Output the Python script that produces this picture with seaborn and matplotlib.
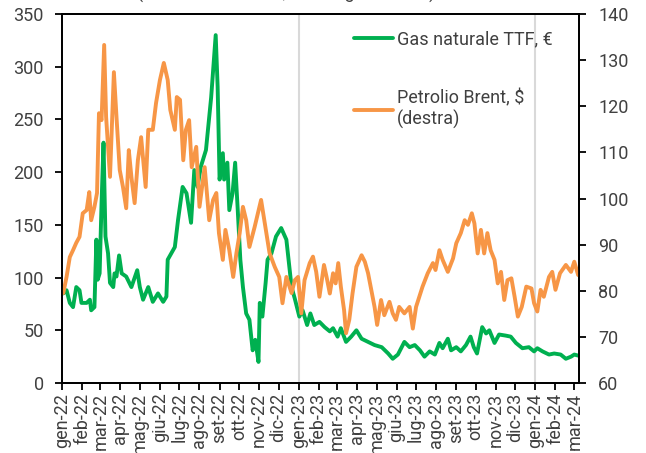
import numpy as np
import pandas as pd
import seaborn as sns
from matplotlib import pyplot as plt

# TTF gas price, EUR/MWh (left axis)
gas_dates = ['2022-01-03', '2022-01-08', '2022-01-13', '2022-01-18', '2022-01-23', '2022-01-28',
             '2022-01-31', '2022-02-08', '2022-02-13', '2022-02-15', '2022-02-20', '2022-02-23',
             '2022-02-25', '2022-02-28', '2022-03-03', '2022-03-06', '2022-03-09', '2022-03-13',
             '2022-03-16', '2022-03-21', '2022-03-23', '2022-03-26', '2022-03-30', '2022-04-03',
             '2022-04-10', '2022-04-18', '2022-04-27', '2022-05-01', '2022-05-06', '2022-05-14',
             '2022-05-21', '2022-05-29', '2022-06-06', '2022-06-11', '2022-06-13', '2022-06-24',
             '2022-06-29', '2022-07-06', '2022-07-12', '2022-07-19', '2022-07-24', '2022-07-29',
             '2022-08-03', '2022-08-11', '2022-08-19', '2022-08-26', '2022-08-29', '2022-09-01',
             '2022-09-06', '2022-09-08', '2022-09-13', '2022-09-16', '2022-09-21', '2022-09-25',
             '2022-09-29', '2022-10-03', '2022-10-07', '2022-10-12', '2022-10-17', '2022-10-22',
             '2022-10-26', '2022-10-31', '2022-11-02', '2022-11-06', '2022-11-11', '2022-11-14',
             '2022-11-20', '2022-11-27', '2022-12-05', '2022-12-13', '2022-12-21', '2022-12-26',
             '2023-01-02', '2023-01-07', '2023-01-14', '2023-01-19', '2023-01-25', '2023-02-02',
             '2023-02-10', '2023-02-18', '2023-02-23', '2023-03-02', '2023-03-07', '2023-03-15',
             '2023-03-23', '2023-03-31', '2023-04-08', '2023-04-18', '2023-04-28', '2023-05-09',
             '2023-05-19', '2023-05-26', '2023-06-03', '2023-06-08', '2023-06-13', '2023-06-21',
             '2023-06-29', '2023-07-07', '2023-07-14', '2023-07-22', '2023-07-30', '2023-08-06',
             '2023-08-11', '2023-08-19', '2023-08-24', '2023-09-01', '2023-09-08', '2023-09-16',
             '2023-09-23', '2023-09-28', '2023-10-03', '2023-10-11', '2023-10-17', '2023-10-22',
             '2023-10-30', '2023-11-06', '2023-11-16', '2023-11-24', '2023-12-02', '2023-12-12',
             '2023-12-22', '2023-12-30', '2024-01-04', '2024-01-12', '2024-01-22', '2024-01-30',
             '2024-02-09', '2024-02-17', '2024-02-25', '2024-03-01', '2024-03-07']
gas_values = [85, 88, 76, 72, 91, 88,
              76, 76, 79, 69, 72, 136,
              98, 104, 171, 228, 139, 123,
              95, 91, 104, 101, 121, 104,
              101, 91, 107, 91, 79, 91,
              77, 85, 77, 82, 117, 129,
              155, 186, 180, 152, 202, 186,
              205, 221, 271, 330, 281, 193,
              218, 193, 209, 164, 180, 209,
              164, 117, 91, 66, 60, 31,
              41, 20, 76, 63, 95, 117,
              123, 139, 147, 136, 91, 80,
              63, 69, 55, 66, 55, 58,
              53, 49, 52, 44, 52, 39,
              44, 50, 42, 39, 36, 34,
              28, 23, 27, 33, 39, 34,
              36, 31, 25, 30, 27, 38,
              33, 42, 31, 34, 30, 36,
              44, 34, 28, 53, 47, 50,
              38, 46, 45, 44, 38, 33,
              34, 30, 33, 30, 27, 28,
              27, 23, 25, 27, 26]

# Brent oil price, USD/barrel (right axis)
brent_dates = ['2022-01-03', '2022-01-08', '2022-01-13', '2022-01-18', '2022-01-23', '2022-01-28',
               '2022-02-02', '2022-02-08', '2022-02-12', '2022-02-15', '2022-02-20', '2022-02-24',
               '2022-02-27', '2022-03-03', '2022-03-07', '2022-03-10', '2022-03-16', '2022-03-22',
               '2022-03-26', '2022-03-31', '2022-04-05', '2022-04-10', '2022-04-14', '2022-04-18',
               '2022-04-23', '2022-04-28', '2022-05-03', '2022-05-10', '2022-05-14', '2022-05-21',
               '2022-05-26', '2022-06-01', '2022-06-07', '2022-06-13', '2022-06-17', '2022-06-24',
               '2022-06-27', '2022-07-02', '2022-07-07', '2022-07-11', '2022-07-16', '2022-07-20',
               '2022-07-27', '2022-08-01', '2022-08-09', '2022-08-16', '2022-08-22', '2022-08-27',
               '2022-08-31', '2022-09-06', '2022-09-10', '2022-09-16', '2022-09-22', '2022-09-27',
               '2022-10-02', '2022-10-07', '2022-10-12', '2022-10-17', '2022-10-25', '2022-11-04',
               '2022-11-09', '2022-11-17', '2022-11-25', '2022-12-02', '2022-12-07', '2022-12-13',
               '2022-12-21', '2022-12-26', '2022-12-31', '2023-01-05', '2023-01-10', '2023-01-18',
               '2023-01-23', '2023-01-28', '2023-02-02', '2023-02-09', '2023-02-13', '2023-02-18',
               '2023-02-23', '2023-02-27', '2023-03-03', '2023-03-07', '2023-03-12', '2023-03-15',
               '2023-03-20', '2023-03-25', '2023-03-31', '2023-04-08', '2023-04-13', '2023-04-18',
               '2023-04-23', '2023-04-28', '2023-05-02', '2023-05-08', '2023-05-13', '2023-05-21',
               '2023-05-26', '2023-05-31', '2023-06-05', '2023-06-13', '2023-06-21', '2023-06-26',
               '2023-07-01', '2023-07-06', '2023-07-11', '2023-07-19', '2023-07-27', '2023-07-31',
               '2023-08-06', '2023-08-11', '2023-08-19', '2023-08-27', '2023-09-01', '2023-09-08',
               '2023-09-14', '2023-09-19', '2023-09-25', '2023-09-29', '2023-10-04', '2023-10-09',
               '2023-10-14', '2023-10-19', '2023-10-24', '2023-10-30', '2023-11-04', '2023-11-09',
               '2023-11-14', '2023-11-19', '2023-11-25', '2023-11-30', '2023-12-05', '2023-12-11',
               '2023-12-18', '2023-12-26', '2023-12-30', '2024-01-04', '2024-01-09', '2024-01-14',
               '2024-01-22', '2024-01-27', '2024-02-01', '2024-02-08', '2024-02-17', '2024-02-25',
               '2024-03-01', '2024-03-07']
brent_values = [79.5, 83.0, 87.3, 88.8, 90.4, 91.7,
                96.8, 97.5, 101.4, 95.3, 98.2, 101.2,
                118.5, 117.0, 133.3, 117.7, 104.7, 127.4,
                117.7, 106.2, 102.5, 97.9, 110.5, 104.7,
                99.0, 108.3, 113.3, 102.5, 114.9, 114.9,
                120.7, 125.7, 129.4, 125.7, 119.2, 114.9,
                122.0, 121.4, 108.3, 114.9, 117.0, 106.8,
                111.2, 98.2, 106.8, 95.3, 99.7, 101.2,
                92.5, 86.7, 93.2, 88.8, 83.0, 88.2,
                92.5, 98.2, 95.3, 89.5, 93.8, 99.7,
                95.3, 88.2, 85.2, 83.0, 77.3, 83.0,
                79.5, 82.3, 83.0, 75.1, 82.3, 86.0,
                87.4, 84.1, 78.7, 85.6, 83.0, 79.4,
                83.8, 81.6, 86.0, 80.9, 75.8, 70.8,
                73.7, 79.4, 85.2, 87.7, 86.3, 83.8,
                80.2, 76.5, 72.6, 78.0, 74.7, 77.6,
                75.1, 73.7, 76.5, 75.1, 76.5, 71.8,
                76.5, 78.7, 80.9, 83.8, 86.0, 84.5,
                88.8, 86.7, 84.1, 87.0, 90.3, 92.5,
                95.3, 94.3, 96.8, 94.6, 88.1, 93.2,
                88.1, 92.5, 88.8, 86.7, 81.6, 84.1,
                78.0, 82.3, 82.7, 78.7, 74.4, 76.5,
                80.9, 80.5, 77.3, 75.5, 80.2, 78.7,
                83.0, 84.1, 80.2, 83.8, 85.6, 84.1,
                86.3, 83.4]

month_labels = ['gen-22', 'feb-22', 'mar-22', 'apr-22', 'mag-22', 'giu-22', 'lug-22', 'ago-22',
                'set-22', 'ott-22', 'nov-22', 'dic-22', 'gen-23', 'feb-23', 'mar-23', 'apr-23',
                'mag-23', 'giu-23', 'lug-23', 'ago-23', 'set-23', 'ott-23', 'nov-23', 'dic-23',
                'gen-24', 'feb-24', 'mar-24']
year_marks = ['2023-01-01', '2024-01-01']

gas = pd.DataFrame({'data': pd.to_datetime(gas_dates), 'valore': gas_values})
brent = pd.DataFrame({'data': pd.to_datetime(brent_dates), 'valore': brent_values})

sns.set_style('ticks')
plt.rcParams['font.family'] = ['Roboto', 'DejaVu Sans']
plt.rcParams['font.size'] = 13
txt_col = '#404040'

fig, ax = plt.subplots(figsize=(6.46, 4.53), dpi=100)
fig.subplots_adjust(left=0.096, right=0.896, top=0.969, bottom=0.1545)
ax2 = ax.twinx()

for d in year_marks:
    ax.axvline(pd.Timestamp(d), color='#D9D9D9', lw=1.5, zorder=0)

sns.lineplot(data=gas, x='data', y='valore', ax=ax, color='#00B050', lw=2.8,
             label='Gas naturale TTF, €', legend=False)
sns.lineplot(data=brent, x='data', y='valore', ax=ax2, color='#F79646', lw=2.8,
             label='Petrolio Brent, $\n(destra)', legend=False)

ax.set_xlim(pd.Timestamp('2022-01-01'), pd.Timestamp('2024-03-08'))
ax.set_ylim(0, 350)
ax2.set_ylim(60, 140)
ax.set_yticks(np.arange(0, 351, 50))
ax2.set_yticks(np.arange(60, 141, 10))
ax.set_xticks(pd.date_range('2022-01-01', '2024-03-01', freq='MS'))
ax.set_xticklabels(month_labels, rotation=90)
ax.set_xlabel('')
ax.set_ylabel('')
ax2.set_ylabel('')

for a in (ax, ax2):
    for s in a.spines.values():
        s.set_visible(True)
        s.set_color('black')
        s.set_linewidth(1.3)
    a.tick_params(axis='both', direction='out', length=5, width=1.3, color='black',
                  labelcolor=txt_col, labelsize=13)
ax.tick_params(axis='y', pad=8)
ax2.tick_params(axis='y', pad=9)
ax.tick_params(axis='x', pad=2)

h1, l1 = ax.get_legend_handles_labels()
h2, l2 = ax2.get_legend_handles_labels()
leg = ax2.legend(h1 + h2, l1 + l2, loc='upper left', bbox_to_anchor=(0.533, 1.0),
                 frameon=False, handlelength=2.2, handletextpad=0.2, labelspacing=2.25,
                 fontsize=13)
for t in leg.get_texts():
    t.set_color(txt_col)

# title sits above the canvas edge, only its lowest strokes show, as in the source
fig.text(0.212, 1.004, '(€/MWh e $/barile, medie giornaliere)', ha='left', va='baseline',
         color=txt_col, fontsize=13)

fig.savefig('out.png', dpi=100)
